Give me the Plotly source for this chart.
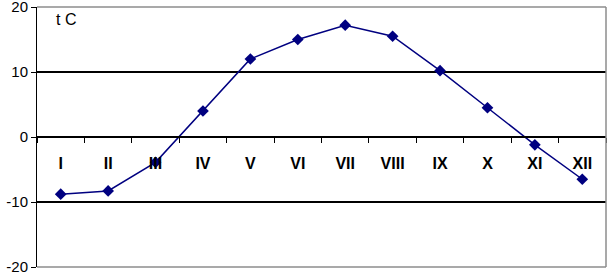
import plotly.graph_objects as go

months = ["I", "II", "III", "IV", "V", "VI", "VII", "VIII", "IX", "X", "XI", "XII"]
temps = [-8.8, -8.3, -3.9, 4.0, 12.0, 15.0, 17.2, 15.5, 10.2, 4.5, -1.2, -6.5]
y_ticks = [-20, -10, 0, 10, 20]
y_tick_text = ["-20", "-10", "0", "10", "20"]

fig = go.Figure()
fig.add_trace(go.Scatter(
    x=months, y=temps, mode="lines+markers",
    line=dict(color="#000080", width=1.5),
    marker=dict(symbol="diamond", size=9, color="#000080"),
    hoverinfo="skip", showlegend=False,
))

fig.update_layout(
    width=608, height=272,
    margin=dict(l=37, r=2, t=7, b=5, autoexpand=False),
    paper_bgcolor="white", plot_bgcolor="white",
    font=dict(family="Liberation Sans, Arial, sans-serif", color="black"),
    xaxis=dict(
        type="category", anchor="free", position=0.5,
        showline=True, linecolor="black", linewidth=1.5,
        tickson="boundaries", ticks="outside", ticklen=5, tickcolor="black",
        tickfont=dict(size=16, family="Liberation Sans, Arial, sans-serif", weight="bold"),
        ticklabelstandoff=12,
        showgrid=False, automargin=False, fixedrange=True,
        range=[-0.5, 11.5],
    ),
    yaxis=dict(
        range=[-20, 20], tickvals=y_ticks, ticktext=y_tick_text,
        ticklabeloverflow="allow",
        showline=True, linecolor="black", linewidth=1,
        ticks="outside", ticklen=5, tickcolor="black",
        tickfont=dict(size=15),
        showgrid=True, gridcolor="black", gridwidth=1.5,
        zeroline=True, zerolinecolor="black", zerolinewidth=1.5,
        automargin=False, fixedrange=True,
    ),
    shapes=[
        dict(type="line", xref="paper", yref="paper", x0=0, x1=1, y0=1, y1=1,
             line=dict(color="#8c8c8c", width=1.5), layer="above"),
        dict(type="line", xref="paper", yref="paper", x0=0, x1=1, y0=0, y1=0,
             line=dict(color="#8c8c8c", width=1.5), layer="above"),
        dict(type="line", xref="paper", yref="paper", x0=1, x1=1, y0=0, y1=1,
             line=dict(color="#8c8c8c", width=1.5), layer="above"),
    ],
    annotations=[
        dict(text="t C", xref="paper", yref="paper", x=0.03, y=0.993,
             xanchor="left", yanchor="top", showarrow=False,
             font=dict(size=16, color="black")),
    ],
)

fig.write_html("out.html", config={"displayModeBar": False},
               post_script="document.body.style.margin='0';")
